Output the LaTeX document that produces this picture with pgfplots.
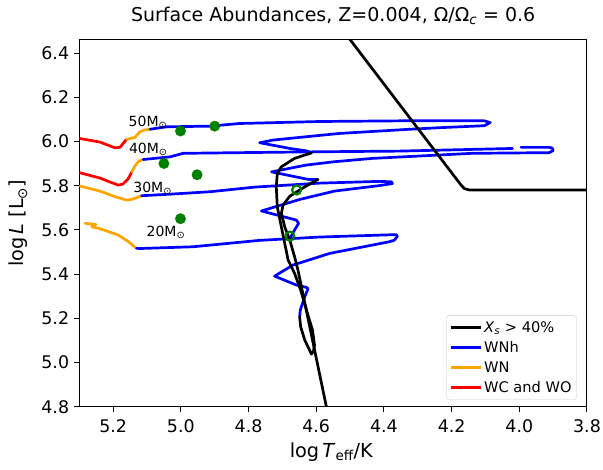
\documentclass[border=0pt]{standalone}
\usepackage{fontspec}
\setmainfont{DejaVu Sans}
\usepackage{pgfplots}
\pgfplotsset{compat=1.18}
\definecolor{mplblue}{RGB}{0,0,255}
\definecolor{mplorange}{RGB}{255,165,0}
\definecolor{mplred}{RGB}{255,0,0}
\definecolor{mplgreen}{RGB}{0,128,0}
\definecolor{legframe}{RGB}{204,204,204}
\pgfplotsset{trk/.style={line width=2.7pt, line join=round, line cap=round, mark=none}}
\begin{document}
\begin{tikzpicture}
\begin{axis}[
  at={(0pt,0pt)}, anchor=south west,
  scale only axis, width=507.7pt, height=366.7pt,
  xmin=3.8, xmax=5.3, x dir=reverse,
  ymin=4.8, ymax=6.46,
  xtick={3.8,4.0,4.2,4.4,4.6,4.8,5.0,5.2},
  ytick={4.8,5.0,5.2,5.4,5.6,5.8,6.0,6.2,6.4},
  tick pos=left, tick align=outside, major tick length=5pt,
  every tick/.style={black, line width=1pt},
  axis line style={black, line width=1pt},
  /pgf/number format/fixed, /pgf/number format/fixed zerofill,
  /pgf/number format/precision=1, /pgf/number format/assume math mode=true,
  ticklabel style={font=\fontsize{17.4}{20}\selectfont},
  xticklabel style={anchor=north, inner sep=0pt, yshift=-8pt},
  yticklabel style={anchor=east, inner sep=0pt, xshift=-5pt},
  legend style={at={(0.9797,0.0183)}, anchor=south east, draw=legframe, rounded corners=3pt,
    fill=white, font=\fontsize{14.6}{17}\selectfont, inner xsep=3pt, inner ysep=4pt, row sep=3.6pt},
  legend cell align=left,
  legend image code/.code={\draw[#1] (0pt,0pt) -- (30pt,0pt);},
]
\addlegendimage{black, line width=2.7pt}\addlegendentry{\textit{X}\textsubscript{\textit{s}} > 40\%}
\addlegendimage{mplblue, line width=2.7pt}\addlegendentry{WNh}
\addlegendimage{mplorange, line width=2.7pt}\addlegendentry{WN}
\addlegendimage{mplred, line width=2.7pt}\addlegendentry{WC and WO}

% 50 Msun
\addplot[trk, mplred, forget plot] coordinates {(5.298,6.014) (5.239,5.998) (5.224,5.989) (5.195,5.972) (5.180,5.974) (5.165,6.002) (5.160,6.010)};
\addplot[trk, mplorange, forget plot] coordinates {(5.160,6.010) (5.150,6.014) (5.136,6.019) (5.127,6.034) (5.121,6.044) (5.109,6.052) (5.091,6.056)};
\addplot[trk, mplblue, forget plot] coordinates {(5.091,6.056) (5.042,6.067) (4.914,6.070) (4.826,6.082) (4.590,6.091) (4.354,6.094) (4.139,6.094) (4.103,6.094) (4.086,6.086) (4.103,6.072) (4.236,6.063) (4.334,6.055) (4.531,6.037) (4.728,6.007) (4.767,5.995) (4.678,5.969) (4.629,5.958) (4.614,5.949)};
% 40 Msun
\addplot[trk, mplred, forget plot] coordinates {(5.298,5.859) (5.239,5.835) (5.209,5.817) (5.185,5.803) (5.171,5.808) (5.162,5.821) (5.155,5.833) (5.145,5.863)};
\addplot[trk, mplorange, forget plot] coordinates {(5.145,5.863) (5.136,5.889) (5.126,5.909) (5.118,5.916) (5.111,5.919)};
\addplot[trk, mplblue, forget plot] coordinates {(5.111,5.919) (5.032,5.931) (4.993,5.947) (4.826,5.950) (4.590,5.954) (4.354,5.957) (4.020,5.969)};
\addplot[trk, mplblue, forget plot] coordinates {(3.995,5.974) (3.912,5.974) (3.903,5.971) (3.900,5.959) (3.912,5.950) (4.139,5.947) (4.434,5.924) (4.546,5.909) (4.629,5.894) (4.732,5.863) (4.678,5.846) (4.624,5.829) (4.595,5.828)};
% 30 Msun
\addplot[trk, mplorange, forget plot] coordinates {(5.298,5.799) (5.239,5.776) (5.195,5.751) (5.160,5.735) (5.147,5.738) (5.136,5.743) (5.116,5.755)};
\addplot[trk, mplblue, forget plot] coordinates {(5.116,5.755) (5.032,5.762) (4.914,5.773) (4.782,5.794) (4.590,5.812) (4.413,5.820) (4.378,5.818) (4.375,5.810) (4.413,5.801) (4.546,5.776) (4.649,5.738) (4.762,5.686) (4.659,5.645) (4.652,5.630) (4.664,5.600) (4.675,5.569)};
% 20 Msun
\addplot[trk, mplorange, forget plot] coordinates {(5.283,5.630) (5.251,5.625) (5.263,5.614) (5.239,5.606) (5.209,5.590) (5.185,5.577) (5.155,5.547) (5.131,5.517)};
\addplot[trk, mplblue, forget plot] coordinates {(5.131,5.517) (5.121,5.516) (4.964,5.524) (4.767,5.553) (4.590,5.568) (4.364,5.579) (4.360,5.572) (4.369,5.554) (4.383,5.547) (4.560,5.494) (4.669,5.441) (4.723,5.391) (4.659,5.351) (4.629,5.340) (4.624,5.334) (4.634,5.298) (4.647,5.238) (4.649,5.207)};

% green markers
\addplot[only marks, mark=*, mark size=5.2pt, mplgreen, forget plot] coordinates {(5.001,6.048) (4.900,6.070) (5.050,5.901) (4.952,5.850) (5.001,5.651)};
\addplot[only marks, mark=o, mark size=4.5pt, mplgreen, mark options={line width=2.2pt}, forget plot] coordinates {(4.658,5.781) (4.678,5.572)};

% X_s > 40% segments
\addplot[trk, black, forget plot] coordinates {(4.614,5.949) (4.634,5.939) (4.664,5.924) (4.703,5.886) (4.715,5.856) (4.718,5.795) (4.715,5.705) (4.703,5.614) (4.693,5.539) (4.683,5.464) (4.664,5.404) (4.646,5.328) (4.626,5.223) (4.611,5.147) (4.605,5.079) (4.608,5.052) (4.614,5.038) (4.619,5.054) (4.634,5.102) (4.646,5.162) (4.649,5.207)};
\addplot[trk, black, forget plot] coordinates {(4.595,5.829) (4.634,5.795) (4.678,5.753) (4.698,5.713) (4.703,5.675) (4.693,5.614) (4.678,5.554) (4.664,5.479) (4.654,5.419) (4.570,4.800) (4.562,4.740)};
\addplot[trk, black, forget plot] coordinates {(4.528,6.518) (4.172,5.803) (4.162,5.787) (4.147,5.781) (3.700,5.781)};

\node[font=\fontsize{14}{16}\selectfont] at (axis cs:5.097,6.087) {50M\textsubscript{⊙}};
\node[font=\fontsize{14}{16}\selectfont] at (axis cs:5.096,5.966) {40M\textsubscript{⊙}};
\node[font=\fontsize{14}{16}\selectfont] at (axis cs:5.083,5.790) {30M\textsubscript{⊙}};
\node[font=\fontsize{14}{16}\selectfont] at (axis cs:5.044,5.588) {20M\textsubscript{⊙}};
\end{axis}
\node[anchor=base, font=\fontsize{19}{22}\selectfont] at (253.85pt,384.7pt) {Surface Abundances, Z=0.004, Ω/Ω\textsubscript{\textit{c}} = 0.6};
\node[anchor=base, font=\fontsize{19.3}{22}\selectfont] at (252pt,-50.6pt) {log\,\textit{T}\textsubscript{eff}/K};
\node[anchor=base, rotate=90, font=\fontsize{19.3}{22}\selectfont] at (-55.3pt,183.35pt) {log\,\textit{L} [L\textsubscript{⊙}]};
\pgfresetboundingbox
\path[use as bounding box] (-79.3pt,-63.3pt) rectangle (523.7pt,406.7pt);
\end{tikzpicture}
\end{document}
